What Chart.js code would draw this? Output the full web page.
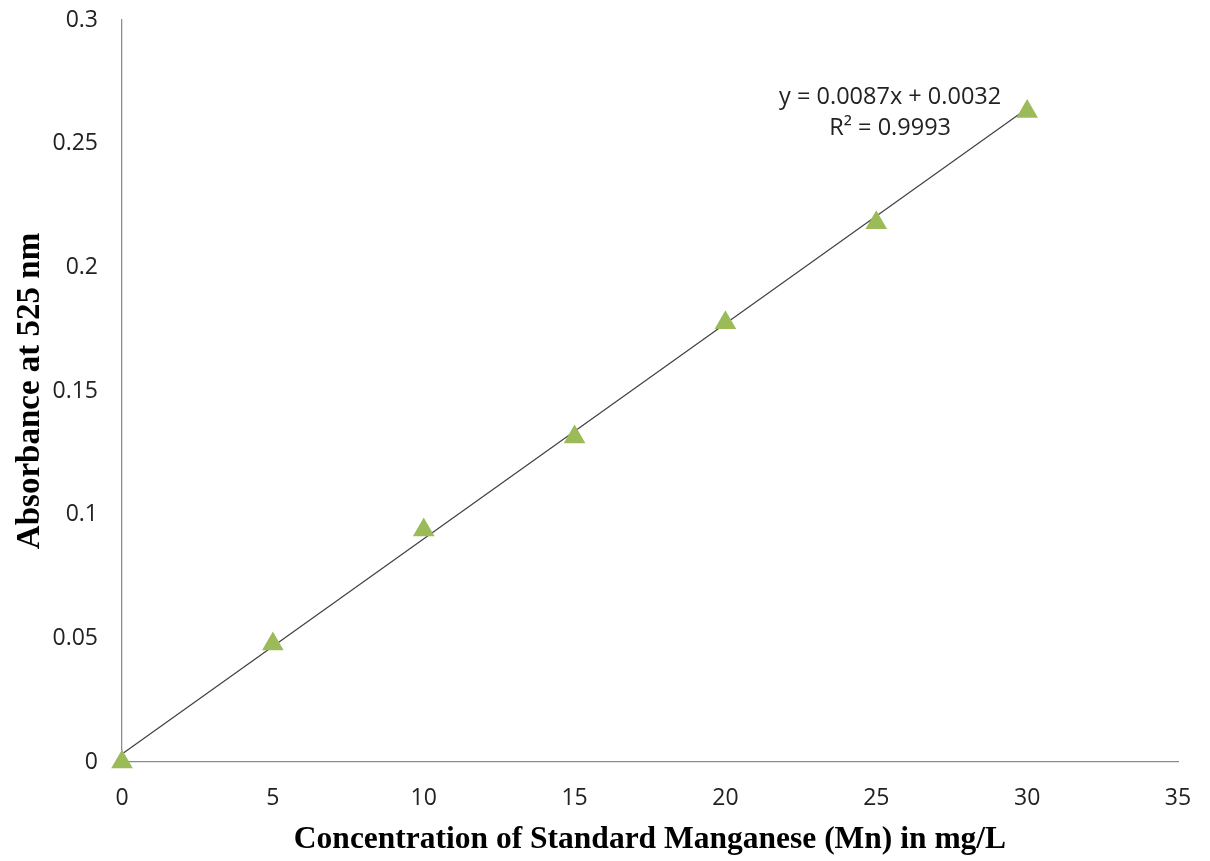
<!DOCTYPE html>
<html>
<head>
<meta charset="utf-8">
<script src="https://cdn.jsdelivr.net/npm/chart.js@4"></script>
<style>
  html, body { margin: 0; padding: 0; background: #fff; }
  #wrap { width: 1210px; height: 861px; }
</style>
</head>
<body>
<div id="wrap"><canvas id="c" width="1210" height="861"></canvas></div>
<script>
// Data
const concentrations = [0, 5, 10, 15, 20, 25, 30];
const absorbances = [0.000, 0.0477, 0.0938, 0.1314, 0.1776, 0.218, 0.263];
const trendX = [0, 30];
const trendY = [0.0032, 0.2642];
const equationLines = ['y = 0.0087x + 0.0032', 'R² = 0.9993'];
const xTitle = 'Concentration of Standard Manganese (Mn) in mg/L';
const yTitle = 'Absorbance at 525 nm';

const tickFont = { family: "'Open Sans', sans-serif", size: 23 };
const xTitleFont = { family: "'Liberation Serif', 'Times New Roman', serif", size: 31.5, weight: 'bold' };
const yTitleFont = { family: "'Liberation Serif', 'Times New Roman', serif", size: 33, weight: 'bold' };

const equationPlugin = {
  id: 'equation',
  afterDatasetsDraw(chart) {
    const { ctx, scales } = chart;
    const cx = scales.x.getPixelForValue(25.46);
    const y1 = scales.y.getPixelForValue(0.2689);
    const y2 = scales.y.getPixelForValue(0.2564);
    ctx.save();
    ctx.fillStyle = '#222';
    ctx.font = "23.5px 'Open Sans', sans-serif";
    ctx.textAlign = 'center';
    ctx.textBaseline = 'middle';
    ctx.fillText(equationLines[0], cx, y1);
    ctx.fillText(equationLines[1], cx, y2);
    ctx.restore();
  }
};

new Chart(document.getElementById('c'), {
  type: 'scatter',
  data: {
    datasets: [
      {
        label: 'Linear trend',
        type: 'line',
        data: trendX.map((x, i) => ({ x, y: trendY[i] })),
        borderColor: '#404040',
        borderWidth: 1.2,
        pointRadius: 0,
        fill: false,
        clip: false,
        order: 2
      },
      {
        label: 'Absorbance',
        data: concentrations.map((x, i) => ({ x, y: absorbances[i] })),
        pointStyle: 'triangle',
        pointRadius: 12.5,
        backgroundColor: '#9BBB59',
        borderColor: '#9BBB59',
        borderWidth: 0,
        clip: false,
        order: 1
      }
    ]
  },
  options: {
    responsive: false,
    animation: false,
    layout: { padding: { left: 0, right: 32, top: 20, bottom: 0 } },
    plugins: { legend: { display: false }, tooltip: { enabled: false } },
    scales: {
      x: {
        type: 'linear',
        min: 0, max: 35,
        ticks: { stepSize: 5, color: '#222', font: tickFont, padding: 23, maxRotation: 0 },
        grid: { display: false, drawTicks: false },
        border: { display: true, color: '#8c8c8c', width: 1.3 },
        title: { display: true, text: xTitle, color: '#000', font: xTitleFont, padding: { top: 0, bottom: 2 } },
        afterFit(scale) { scale.height = 99; scale.paddingLeft = 0; scale.paddingRight = 0; }
      },
      y: {
        type: 'linear',
        min: 0, max: 0.3,
        ticks: { stepSize: 0.05, color: '#222', font: tickFont, padding: 24,
          callback: v => String(Math.round(v * 100) / 100) },
        grid: { display: false, drawTicks: false },
        border: { display: true, color: '#8c8c8c', width: 1.3 },
        title: { display: true, text: yTitle, color: '#000', font: yTitleFont, padding: { top: 11, bottom: 0 } },
        afterFit(scale) { scale.width = 122; scale.paddingTop = 0; scale.paddingBottom = 0; }
      }
    }
  },
  plugins: [equationPlugin]
});
</script>
</body>
</html>
